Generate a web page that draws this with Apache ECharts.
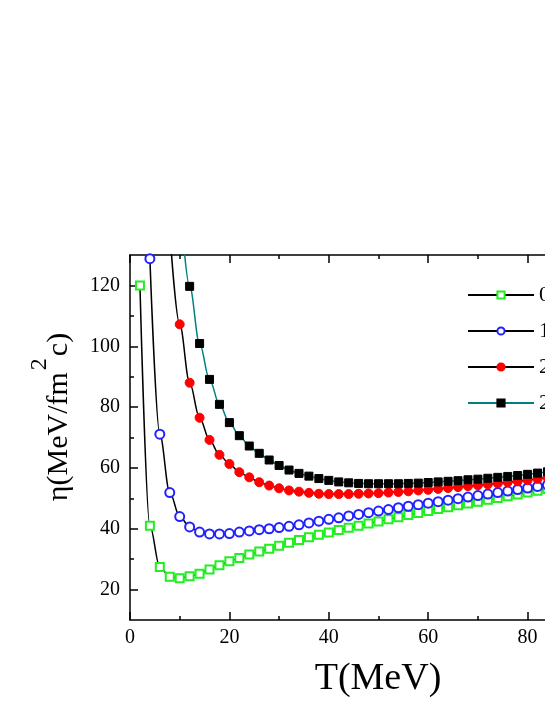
<!DOCTYPE html>
<html><head><meta charset="utf-8">
<script src="https://cdn.jsdelivr.net/npm/echarts@6/dist/echarts.min.js"></script>
<style>html,body{margin:0;padding:0;background:#fff}#c{width:545px;height:705px}</style>
</head><body><div id="c"></div>
<script>
const T = [2,4,6,8,10,12,14,16,18,20,22,24,26,28,30,32,34,36,38,40,42,44,46,48,50,52,54,56,58,60,62,64,66,68,70,72,74,76,78,80,82,84,86];
const green = [120,41,27.4,24.2,23.7,24.4,25.2,26.6,28,29.3,30.4,31.5,32.5,33.4,34.4,35.4,36.3,37.2,38,38.8,39.6,40.3,41,41.7,42.4,43.1,43.8,44.5,45.2,45.8,46.5,47.1,47.7,48.3,48.9,49.5,50.1,50.7,51.3,51.9,52.5,53.1,53.7];
const blue = [null,128.8,71.1,51.9,44,40.6,38.9,38.3,38.3,38.4,38.9,39.3,39.7,40,40.4,40.8,41.3,41.9,42.5,43.1,43.6,44.2,44.7,45.3,45.8,46.3,46.9,47.4,47.9,48.4,48.9,49.4,49.9,50.4,50.9,51.4,51.9,52.4,52.9,53.4,53.9,54.4,54.9];
const red = [null,null,null,138,107.2,88,76.5,69.2,64.3,61.3,58.6,56.9,55.3,54.2,53.3,52.6,52.2,51.8,51.5,51.4,51.4,51.4,51.5,51.6,51.7,51.9,52.1,52.3,52.6,52.8,53.1,53.4,53.7,54,54.3,54.6,54.9,55.3,55.6,56,56.4,56.8,57.2];
const black = [null,null,null,null,150,119.7,100.9,89.1,80.9,74.9,70.6,67.2,64.8,62.6,60.8,59.3,58.2,57.3,56.5,55.9,55.4,55.1,54.9,54.8,54.8,54.8,54.8,54.9,55,55.2,55.4,55.6,55.8,56.1,56.3,56.6,56.9,57.2,57.5,57.9,58.3,58.7,59.1];
const names = ['0.5 fm','1.0 fm','2.0 fm','2.5 fm'];
const yMajor = [20,40,60,80,100,120];
const yMinor = [30,50,70,90,110];

const F = 'Liberation Serif, Times New Roman, serif';
const pairs = arr => T.map((t,i)=>[t,arr[i]]).filter(p=>p[1]!==null);
const chart = echarts.init(document.getElementById('c'), null, {renderer:'canvas'});
const axisLineStyle = {color:'#000', width:1.5};
const xBase = {
  type:'value', min:0, max:100, interval:20,
  axisLine:{show:true, onZero:false, lineStyle:axisLineStyle},
  axisTick:{show:true, inside:true, length:8, lineStyle:axisLineStyle},
  minorTick:{show:true, splitNumber:2, length:4, lineStyle:axisLineStyle},
  splitLine:{show:false}, minorSplitLine:{show:false}
};
function mkSeries(name, arr, symbol, color, lineColor, size){
  return {
    name, type:'line', data:pairs(arr), symbol, symbolSize:size,
    showAllSymbol:true, smooth:0.35, smoothMonotone:'x', clip:true,
    lineStyle:{color:lineColor, width:1.5},
    itemStyle:{color:color, borderColor:color, borderWidth:1},
    emphasis:{disabled:true}, z: 3
  };
}
chart.setOption({
  animation:false,
  backgroundColor:'#fff',
  grid:{left:130, top:255, width:497, height:365, containLabel:false, outerBoundsMode:'none'},
  xAxis:[
    Object.assign({}, xBase, {position:'bottom', axisLabel:{show:true, fontFamily:F, fontSize:20, color:'#000', margin:8}}),
    Object.assign({}, xBase, {position:'top', axisLabel:{show:false}})
  ],
  yAxis:[
    {type:'value', min:10, max:130, interval:10, position:'left',
     axisLine:{show:true, onZero:false, lineStyle:axisLineStyle},
     axisTick:{show:true, inside:true, length:8, customValues:yMajor, lineStyle:axisLineStyle},
     axisLabel:{show:true, customValues:yMajor, fontFamily:F, fontSize:20, color:'#000', margin:10},
     splitLine:{show:false}},
    {type:'value', min:10, max:130, interval:10, position:'left', offset:0,
     axisLine:{show:false},
     axisTick:{show:true, inside:true, length:4, customValues:yMinor, lineStyle:axisLineStyle},
     axisLabel:{show:false},
     splitLine:{show:false}}
  ],
  legend:{
    orient:'vertical', left:467, top:284, padding:0, itemWidth:66, itemHeight:9, itemGap:14,
    textStyle:{fontFamily:F, fontSize:22, color:'#000'},
    data:names, selectedMode:false
  },
  series:[
    mkSeries(names[0], green, 'emptyRect', '#22ee22', '#000', 8),
    mkSeries(names[1], blue, 'emptyCircle', '#2222ff', '#000', 9),
    mkSeries(names[2], red, 'circle', '#ff0000', '#000', 9),
    mkSeries(names[3], black, 'rect', '#000000', '#008080', 8)
  ],
  graphic:[
    {type:'text', x:51, y:417, rotation:Math.PI/2, z:10,
     style:{text:'{a|η(MeV/fm}{s|2}{a|c)}', align:'center', verticalAlign:'middle',
       rich:{a:{fontFamily:F, fontSize:30, fill:'#000', verticalAlign:'bottom'},
             s:{fontFamily:F, fontSize:24, fill:'#000', verticalAlign:'bottom', padding:[0,2,22,2]}}}},
    {type:'text', x:378, y:679, z:10,
     style:{text:'T(MeV)', fontFamily:F, fontSize:38, fill:'#000', align:'center', verticalAlign:'middle'}}
  ]
});
</script></body></html>
